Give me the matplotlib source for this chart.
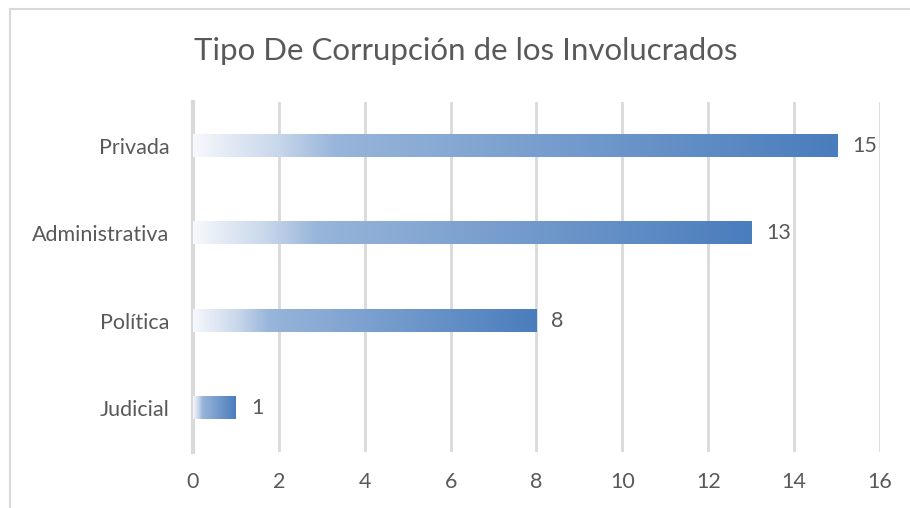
import matplotlib
matplotlib.use("Agg")
import matplotlib.pyplot as plt
import numpy as np
from matplotlib.colors import LinearSegmentedColormap
from matplotlib.lines import Line2D

categories = ["Judicial", "Política", "Administrativa", "Privada"]
values = [1, 8, 13, 15]
title = "Tipo De Corrupción de los Involucrados"
xticks = [0, 2, 4, 6, 8, 10, 12, 14, 16]

plt.rcParams['font.family'] = ['Lato', 'DejaVu Sans']
txt = "#595959"
grid_c = "#d9d9d9"

fig = plt.figure(figsize=(9.1, 5.08), dpi=100)
ax = fig.add_axes([0.212, 0.110, 0.755, 0.689])

cmap = LinearSegmentedColormap.from_list("grad", [
    (0.0, "#f6f8fc"), (0.13, "#c8d7eb"), (0.22, "#98b5da"),
    (0.5, "#7ca1cf"), (1.0, "#4a7dbd")])
grad = np.linspace(0, 1, 256).reshape(1, -1)
h = 0.252
for i, v in enumerate(values):
    ax.imshow(grad, cmap=cmap, aspect='auto', extent=[0, v, i - h / 2, i + h / 2],
              zorder=3, interpolation='bilinear')
    ax.text(v + 0.35, i, str(v), va='center', ha='left', fontsize=15.5, color=txt)

ax.set_xlim(0, 16)
ax.set_ylim(-0.5, 3.5)
ax.set_xticks(xticks)
ax.set_xticklabels([str(t) for t in xticks], fontsize=15.5, color=txt)
ax.set_yticks(range(len(categories)))
ax.set_yticklabels(categories, fontsize=15.5, color=txt)
ax.tick_params(axis='both', length=0)
ax.tick_params(axis='x', pad=14)
ax.tick_params(axis='y', pad=17)
for t in xticks[1:]:
    ax.axvline(t, color=grid_c, lw=2, zorder=1)
for s in ['top', 'right', 'bottom']:
    ax.spines[s].set_visible(False)
ax.spines['left'].set_color(grid_c)
ax.spines['left'].set_linewidth(3)

fig.text(0.512, 0.90, title, ha='center', va='center', fontsize=22.5, color=txt)

fig.add_artist(Line2D([10/910, 1], [1 - 9/508, 1 - 9/508], color=grid_c, lw=1.5,
                      transform=fig.transFigure))
fig.add_artist(Line2D([10/910, 10/910], [0, 1 - 9/508], color=grid_c, lw=1.5,
                      transform=fig.transFigure))

fig.savefig("out.png", dpi=100)
